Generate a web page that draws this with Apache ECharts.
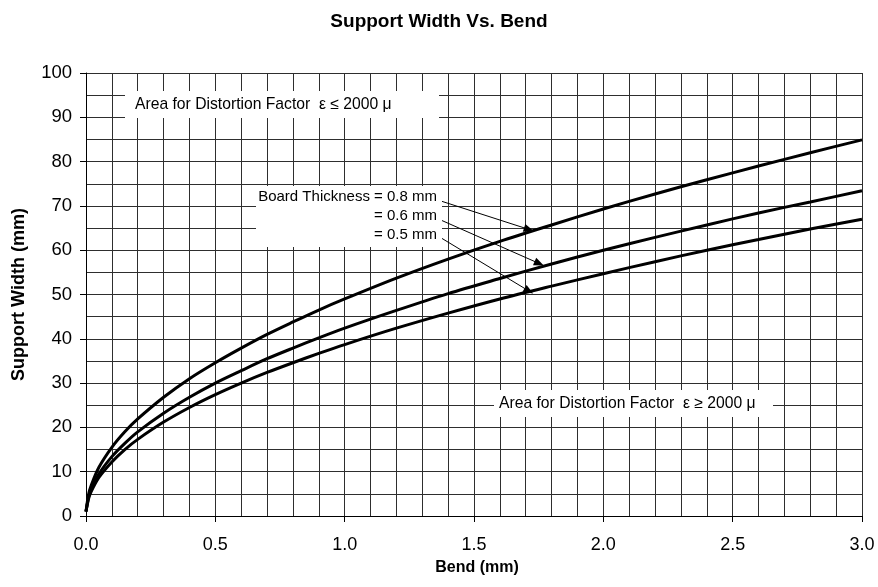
<!DOCTYPE html>
<html>
<head>
<meta charset="utf-8">
<script src="https://cdn.jsdelivr.net/npm/echarts@6/dist/echarts.min.js"></script>
<style>
html,body{margin:0;padding:0;background:#fff;}
#chart{width:878px;height:587px;}
</style>
</head>
<body>
<div id="chart"></div>
<script>
// Bend (mm) sample positions
var bendValues = [0, 0.01, 0.02, 0.05, 0.1, 0.15, 0.2, 0.3, 0.4, 0.5, 0.6, 0.7, 0.8, 0.9, 1.0, 1.2, 1.4, 1.6, 1.8, 2.0, 2.2, 2.4, 2.6, 2.8, 3.0];
// Support width (mm) for each board thickness
var width08 = [1.0, 4.9, 6.9, 11.0, 15.5, 19.0, 21.9, 26.8, 31.0, 34.6, 37.9, 41.0, 43.8, 46.5, 49.0, 53.7, 58.0, 62.0, 65.7, 69.3, 72.7, 75.9, 79.0, 82.0, 84.9];
var width06 = [1.0, 4.2, 6.0, 9.5, 13.4, 16.4, 19.0, 23.2, 26.8, 30.0, 32.8, 35.5, 37.9, 40.2, 42.4, 46.4, 50.2, 53.6, 56.9, 60.0, 62.9, 65.7, 68.4, 70.9, 73.4];
var width05 = [1.0, 3.9, 5.5, 8.7, 12.2, 15.0, 17.3, 21.2, 24.5, 27.4, 30.0, 32.4, 34.6, 36.7, 38.7, 42.4, 45.8, 49.0, 51.9, 54.7, 57.4, 60.0, 62.4, 64.8, 67.0];
var xTickLabels = ['0.0', '0.5', '1.0', '1.5', '2.0', '2.5', '3.0'];
var yTickLabels = ['0', '10', '20', '30', '40', '50', '60', '70', '80', '90', '100'];
var seriesNames = ['0.8 mm', '0.6 mm', '0.5 mm'];

function pairs(ys) { return bendValues.map(function (x, i) { return [x, ys[i]]; }); }

var FONT = 'Arial, "Liberation Sans", sans-serif';
var gridColor = '#2e2e2e';

var chart = echarts.init(document.getElementById('chart'), null, {renderer: 'canvas'});

var lineCommon = {
  type: 'line', xAxisIndex: 0, yAxisIndex: 0, showSymbol: false, smooth: 0.3,
  lineStyle: {color: '#000', width: 3}, itemStyle: {color: '#000'}, silent: true, z: 5,
  emphasis: {disabled: true}
};

var option = {
  animation: false,
  backgroundColor: '#fff',
  title: {
    text: 'Support Width Vs. Bend', left: 'center', top: 7,
    textStyle: {fontFamily: FONT, fontSize: 19, fontWeight: 'bold', color: '#000'}
  },
  grid: {left: 86, right: 16, top: 73, bottom: 71, containLabel: false},
  xAxis: [
    {type: 'value', min: 0, max: 3, interval: 0.1, position: 'bottom',
     axisLine: {show: true, lineStyle: {color: '#000', width: 1}},
     axisTick: {show: false}, axisLabel: {show: false},
     splitLine: {show: true, lineStyle: {color: gridColor, width: 1}}},
    {type: 'value', min: 0, max: 3, interval: 0.5, position: 'bottom',
     axisLine: {show: false},
     axisTick: {show: true, inside: false, length: 6, lineStyle: {color: '#000'}},
     axisLabel: {show: true, margin: 20, fontFamily: FONT, fontSize: 18, color: '#000',
       formatter: function (v) { return xTickLabels[Math.round(v / 0.5)]; }},
     splitLine: {show: false},
     name: 'Bend (mm)', nameLocation: 'middle', nameGap: 44,
     nameTextStyle: {fontFamily: FONT, fontSize: 16, fontWeight: 'bold', color: '#000', padding: [0, 0, 0, 6]}}
  ],
  yAxis: [
    {type: 'value', min: 0, max: 100, interval: 5, position: 'left',
     axisLine: {show: true, lineStyle: {color: '#000', width: 1}},
     axisTick: {show: false}, axisLabel: {show: false},
     splitLine: {show: true, lineStyle: {color: gridColor, width: 1}}},
    {type: 'value', min: 0, max: 100, interval: 10, position: 'left',
     axisLine: {show: false},
     axisTick: {show: true, inside: false, length: 6, lineStyle: {color: '#000'}},
     axisLabel: {show: true, margin: 14, fontFamily: FONT, fontSize: 18.5, color: '#000',
       formatter: function (v) { return yTickLabels[Math.round(v / 10)]; }},
     splitLine: {show: false},
     name: 'Support Width (mm)', nameLocation: 'middle', nameGap: 58, nameRotate: 90,
     nameTextStyle: {fontFamily: FONT, fontSize: 18, fontWeight: 'bold', color: '#000'}}
  ],
  series: [
    Object.assign({}, lineCommon, {
      name: seriesNames[0], data: pairs(width08),
      markLine: {
        silent: true, symbol: ['none', 'triangle'], symbolSize: [8, 10],
        label: {show: false}, emphasis: {disabled: true},
        lineStyle: {color: '#000', width: 1, type: 'solid'},
        data: [
          [{coord: [1.372, 71.1]}, {coord: [1.712, 64.7]}],
          [{coord: [1.372, 66.8]}, {coord: [1.752, 57.0]}],
          [{coord: [1.372, 62.8]}, {coord: [1.712, 50.8]}]
        ]
      }
    }),
    Object.assign({}, lineCommon, {name: seriesNames[1], data: pairs(width06)}),
    Object.assign({}, lineCommon, {name: seriesNames[2], data: pairs(width05)})
  ],
  graphic: [
    {type: 'rect', z: 50, shape: {x: 125, y: 91, width: 314, height: 27}, style: {fill: '#fff'}},
    {type: 'text', z: 51, x: 135, y: 104.5,
     style: {text: 'Area for Distortion Factor  \u03b5 \u2264 2000 \u03bc', font: '15.7px ' + FONT, fill: '#000', textVerticalAlign: 'middle', verticalAlign: 'middle'}},
    {type: 'rect', z: 50, shape: {x: 256, y: 186, width: 186, height: 61}, style: {fill: '#fff'}},
    {type: 'text', z: 51, x: 437, y: 197,
     style: {text: 'Board Thickness = 0.8 mm', font: '15px ' + FONT, fill: '#000', align: 'right', textAlign: 'right', verticalAlign: 'middle', textVerticalAlign: 'middle'}},
    {type: 'text', z: 51, x: 437, y: 216,
     style: {text: '= 0.6 mm', font: '15px ' + FONT, fill: '#000', align: 'right', textAlign: 'right', verticalAlign: 'middle', textVerticalAlign: 'middle'}},
    {type: 'text', z: 51, x: 437, y: 235,
     style: {text: '= 0.5 mm', font: '15px ' + FONT, fill: '#000', align: 'right', textAlign: 'right', verticalAlign: 'middle', textVerticalAlign: 'middle'}},
    {type: 'rect', z: 50, shape: {x: 494, y: 390, width: 279, height: 27}, style: {fill: '#fff'}},
    {type: 'text', z: 51, x: 499, y: 403.5,
     style: {text: 'Area for Distortion Factor  \u03b5 \u2265 2000 \u03bc', font: '15.7px ' + FONT, fill: '#000', textVerticalAlign: 'middle', verticalAlign: 'middle'}}
  ]
};

chart.setOption(option);
</script>
</body>
</html>
